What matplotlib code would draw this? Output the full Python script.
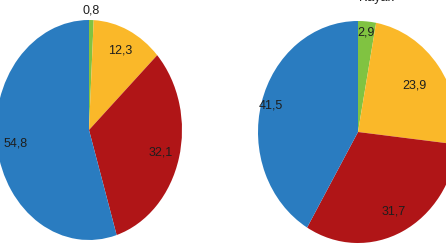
import numpy as np
import matplotlib
matplotlib.use("Agg")
import matplotlib.pyplot as plt

## Data
left_vals = [0.8, 12.3, 32.1, 54.8]
right_vals = [2.9, 23.9, 31.7, 41.5]
colors = ["#80c341", "#fab829", "#b01517", "#2a7cc0"]
title_right = "Kayak"

## Layout (pixels on a 446x244 canvas)
W, H = 446, 244
plt.rcParams['font.family'] = ['Liberation Sans', 'DejaVu Sans']
fig = plt.figure(figsize=(W / 100, H / 100), dpi=100)

def pie_axes(cx, cy, rx, ry):
    # axes spanning exactly the ellipse box, data range [-1, 1]
    ax = fig.add_axes([(cx - rx) / W, (H - cy - ry) / H, 2 * rx / W, 2 * ry / H])
    return ax

def draw_pie(ax, vals, dists):
    wedges, _ = ax.pie(vals, colors=colors, startangle=90, counterclock=False,
                       radius=1.0, wedgeprops=dict(linewidth=0))
    ax.set_aspect('auto'); ax.set_xlim(-1, 1); ax.set_ylim(-1, 1)
    for w, v, d in zip(wedges, vals, dists):
        a = np.deg2rad((w.theta1 + w.theta2) / 2)
        ax.text(d * np.cos(a), d * np.sin(a), f"{v:.1f}".replace('.', ','),
                ha='center', va='center', fontsize=9, color='#1e1e1e',
                clip_on=False)

axL = pie_axes(89, 130, 93, 110)
draw_pie(axL, left_vals, [1.09, 0.8, 0.8, 0.8])

axR = pie_axes(358, 132, 100, 111)
draw_pie(axR, right_vals, [0.9, 0.7, 0.8, 0.9])

# title mostly cut by the top edge
fig.text(376 / W, 1 - 1 / H, title_right, ha='center', va='baseline',
         fontsize=9, color='#1e1e1e')

fig.savefig("out.png", dpi=100)
